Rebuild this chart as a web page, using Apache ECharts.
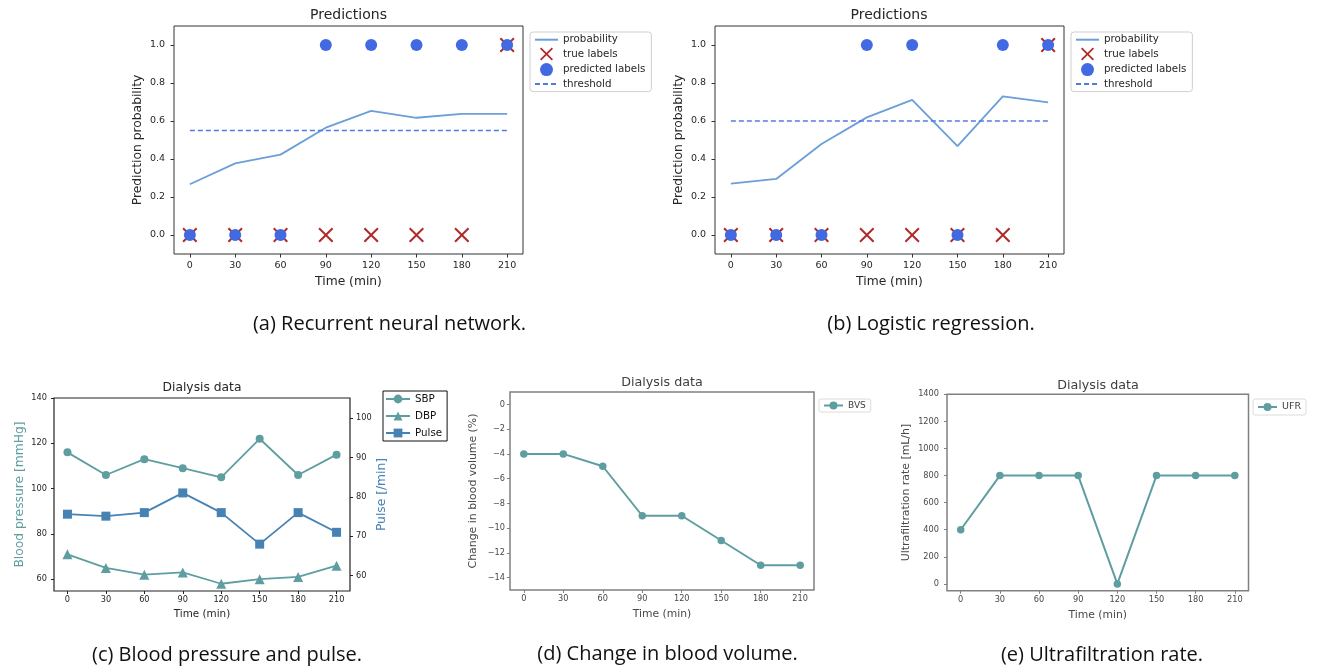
<!DOCTYPE html>
<html>
<head>
<meta charset="utf-8">
<script src="https://cdn.jsdelivr.net/npm/echarts@6/dist/echarts.min.js"></script>
<style>
  html, body { margin: 0; padding: 0; background: #fff; }
  #main { position: absolute; left: 0; top: 0; width: 1320px; height: 671px; }
  #dialysis { position: absolute; left: 450px; top: 360px; width: 870px; height: 270px; filter: blur(0.5px); }
</style>
</head>
<body>
<div id="main"></div>
<div id="dialysis"></div>
<script>
// ---- data ----
const times = [0, 30, 60, 90, 120, 150, 180, 210];
const timeTicks = [0, 30, 60, 90, 120, 150, 180, 210];

// (a) recurrent neural network
const rnnProbability = [0.267, 0.377, 0.423, 0.565, 0.653, 0.617, 0.637, 0.637];
const rnnPredicted = [0, 0, 0, 1, 1, 1, 1, 1];
const rnnThreshold = 0.55;

// (b) logistic regression
const lrProbability = [0.270, 0.295, 0.479, 0.619, 0.711, 0.468, 0.730, 0.698];
const lrPredicted = [0, 0, 0, 1, 1, 0, 1, 1];
const lrThreshold = 0.60;

const trueLabels = [0, 0, 0, 0, 0, 0, 0, 1];
const probTicks = [0, 0.2, 0.4, 0.6, 0.8, 1.0];

// (c) blood pressure and pulse
const sbp = [116, 106, 113, 109, 105, 122, 106, 115];
const dbp = [71, 65, 62, 63, 58, 60, 61, 66];
const pulse = [75.6, 75.1, 76, 81, 76, 68, 76, 71];
const bpTicks = [60, 80, 100, 120, 140];
const pulseTicks = [60, 70, 80, 90, 100];

// (d) change in blood volume
const bvs = [-4, -4, -5, -9, -9, -11, -13, -13];
const bvsTicks = [0, -2, -4, -6, -8, -10, -12, -14];

// (e) ultrafiltration rate
const ufr = [400, 800, 800, 800, 0, 800, 800, 800];
const ufrTicks = [0, 200, 400, 600, 800, 1000, 1200, 1400];

const captions = [
  '(a) Recurrent neural network.',
  '(b) Logistic regression.',
  '(c) Blood pressure and pulse.',
  '(d) Change in blood volume.',
  '(e) Ultrafiltration rate.'
];

// ---- styling ----
const FONT = 'DejaVu Sans';
const CAPTION_FONT = 'Open Sans';
const PROB = '#6a9fd8';
const THR = '#5478e4';
const BLUE = '#4169e1';
const RED = '#b02a2a';
const TEAL = '#5f9ea0';
const STEEL = '#4682b4';
// "x" marker drawn as a filled cross outline
const XMARK = 'path://M0,1.9L1.9,0L10,8.1L18.1,0L20,1.9L11.9,10L20,18.1L18.1,20L10,11.9L1.9,20L0,18.1L8.1,10Z';

const pts = (ys) => times.map((t, i) => [t, ys[i]]);
const minus = (v) => (v < 0 ? '\u2212' + Math.abs(v) : String(v));

function timeAxis(gridIndex, s) {
  return {
    type: 'value', gridIndex: gridIndex, min: -10.5, max: 220.5,
    name: 'Time (min)', nameLocation: 'middle', nameGap: s.nameGap,
    nameTextStyle: { fontFamily: FONT, fontSize: s.nameSize, color: s.color },
    axisLine: { show: false, onZero: false },
    axisTick: { show: true, customValues: timeTicks, length: s.tickLen, lineStyle: { color: s.frame, width: 1 } },
    axisLabel: { customValues: timeTicks, margin: s.labelMargin, fontFamily: FONT, fontSize: s.tickSize, color: s.color,
                 formatter: (v) => String(v) },
    splitLine: { show: false }
  };
}

function valueAxis(gridIndex, s) {
  return {
    type: 'value', gridIndex: gridIndex, min: s.min, max: s.max,
    position: s.position || 'left',
    name: s.name, nameLocation: 'middle', nameGap: s.nameGap,
    nameTextStyle: { fontFamily: FONT, fontSize: s.nameSize, color: s.nameColor || s.color },
    axisLine: { show: false, onZero: false },
    axisTick: { show: true, customValues: s.ticks, length: s.tickLen, lineStyle: { color: s.frame, width: 1 } },
    axisLabel: { customValues: s.ticks, margin: s.labelMargin, fontFamily: FONT, fontSize: s.tickSize, color: s.color,
                 formatter: s.formatter || ((v) => String(v)) },
    splitLine: { show: false }
  };
}

function heading(text, x, y, size, color, family) {
  return {
    text: text, left: x, top: y, textAlign: 'center', textVerticalAlign: 'middle', padding: 0,
    textStyle: { fontFamily: family || FONT, fontSize: size, fontWeight: 'normal', color: color }
  };
}

function predictionSeries(xi, probability, predicted, threshold) {
  return [
    { name: 'probability', type: 'line', xAxisIndex: xi, yAxisIndex: xi, data: pts(probability),
      symbol: 'none', lineStyle: { color: PROB, width: 1.8 }, itemStyle: { color: PROB } },
    { name: 'true labels', type: 'scatter', xAxisIndex: xi, yAxisIndex: xi, data: pts(trueLabels),
      symbol: XMARK, symbolSize: 15, itemStyle: { color: RED, opacity: 1 } },
    { name: 'predicted labels', type: 'scatter', xAxisIndex: xi, yAxisIndex: xi, data: pts(predicted),
      symbol: 'circle', symbolSize: 12, itemStyle: { color: BLUE, opacity: 1 } },
    { name: 'threshold', type: 'line', xAxisIndex: xi, yAxisIndex: xi,
      data: [[times[0], threshold], [times[times.length - 1], threshold]],
      symbol: 'none', lineStyle: { color: THR, width: 1.5, type: [5, 3] }, itemStyle: { color: THR } }
  ];
}

// legend entries: line-only entries hide the marker dot
const predictionLegendData = [
  { name: 'probability', itemStyle: { opacity: 0 } },
  { name: 'true labels' },
  { name: 'predicted labels', icon: 'path://M0,0m-6,0a6,6 0 1,0 12,0a6,6 0 1,0 -12,0' },
  { name: 'threshold', itemStyle: { opacity: 0 } }
];

function predictionLegend(x) {
  return {
    orient: 'vertical', left: x, top: 32, padding: [2.5, 6, 2.5, 4], itemWidth: 23, itemHeight: 13, itemGap: 2.6,
    data: predictionLegendData,
    borderColor: '#cfcfcf', borderWidth: 1, borderRadius: 3, backgroundColor: '#fff',
    textStyle: { fontFamily: FONT, fontSize: 10.3, color: '#262626' }, selectedMode: false
  };
}

const predStyle = { frame: '#333', color: '#262626', tickLen: 3.5, tickSize: 9.5, nameSize: 12.3 };
const bpStyle = { frame: '#222', color: '#262626', tickLen: 3, tickSize: 8.2, nameSize: 12.3 };
const dialStyle = { frame: '#808080', color: '#484848', tickLen: 3, tickSize: 8.2, nameSize: 10.9 };

// ---- top row and panel (c) ----
const main = echarts.init(document.getElementById('main'), null, { renderer: 'canvas' });
main.setOption({
  animation: false,
  backgroundColor: '#fff',
  title: [
    heading('Predictions', 348.5, 15.5, 14, '#262626'),
    heading('Predictions', 889, 15.5, 14, '#262626'),
    heading('Dialysis data', 202, 388, 12.3, '#262626'),
    heading(captions[0], 389.5, 324, 20, '#111', CAPTION_FONT),
    heading(captions[1], 931, 324, 20, '#111', CAPTION_FONT),
    heading(captions[2], 227, 655, 20, '#111', CAPTION_FONT),
    heading(captions[3], 667.5, 654, 20, '#111', CAPTION_FONT),
    heading(captions[4], 1102, 655, 20, '#111', CAPTION_FONT)
  ],
  grid: [
    { left: 174, top: 26, width: 349, height: 228, show: true, borderColor: '#333', borderWidth: 1 },
    { left: 715, top: 26, width: 349, height: 228, show: true, borderColor: '#333', borderWidth: 1 },
    { left: 54, top: 398, width: 296, height: 193, show: true, borderColor: '#222', borderWidth: 1.2 }
  ],
  xAxis: [
    timeAxis(0, Object.assign({ nameGap: 22, labelMargin: 7 }, predStyle)),
    timeAxis(1, Object.assign({ nameGap: 22, labelMargin: 7 }, predStyle)),
    timeAxis(2, Object.assign({}, bpStyle, { nameGap: 18, labelMargin: 5, nameSize: 10.4 }))
  ],
  yAxis: [
    valueAxis(0, Object.assign({ min: -0.1, max: 1.1, ticks: probTicks, name: 'Prediction probability',
      nameGap: 30, labelMargin: 9, formatter: (v) => v.toFixed(1) }, predStyle)),
    valueAxis(1, Object.assign({ min: -0.1, max: 1.1, ticks: probTicks, name: 'Prediction probability',
      nameGap: 30, labelMargin: 9, formatter: (v) => v.toFixed(1) }, predStyle)),
    valueAxis(2, Object.assign({ min: 54.8, max: 140, ticks: bpTicks, name: 'Blood pressure [mmHg]',
      nameGap: 28, labelMargin: 7, nameColor: TEAL }, bpStyle)),
    valueAxis(2, Object.assign({ min: 56.1, max: 105.1, ticks: pulseTicks, name: 'Pulse [/min]', position: 'right',
      nameGap: 25, labelMargin: 6, nameColor: STEEL }, bpStyle))
  ],
  legend: [
    predictionLegend(530),
    predictionLegend(1071),
    { orient: 'vertical', left: 383, top: 391, padding: [3, 5, 3, 2], itemWidth: 24, itemHeight: 11, itemGap: 7,
      data: ['SBP', 'DBP', 'Pulse'],
      borderColor: '#111', borderWidth: 1, borderRadius: 0, backgroundColor: '#fff',
      textStyle: { fontFamily: FONT, fontSize: 10.3, color: '#111' }, selectedMode: false }
  ],
  series: [].concat(
    predictionSeries(0, rnnProbability, rnnPredicted, rnnThreshold),
    predictionSeries(1, lrProbability, lrPredicted, lrThreshold),
    [
      { name: 'SBP', type: 'line', xAxisIndex: 2, yAxisIndex: 2, data: pts(sbp), symbol: 'circle', symbolSize: 8,
        lineStyle: { color: TEAL, width: 1.8 }, itemStyle: { color: TEAL } },
      { name: 'DBP', type: 'line', xAxisIndex: 2, yAxisIndex: 2, data: pts(dbp), symbol: 'triangle', symbolSize: 10,
        lineStyle: { color: TEAL, width: 1.8 }, itemStyle: { color: TEAL } },
      { name: 'Pulse', type: 'line', xAxisIndex: 2, yAxisIndex: 3, data: pts(pulse), symbol: 'rect', symbolSize: 9,
        lineStyle: { color: STEEL, width: 1.8 }, itemStyle: { color: STEEL } }
    ]
  )
});

// ---- panels (d) and (e) ----
const dial = echarts.init(document.getElementById('dialysis'), null, { renderer: 'canvas' });
dial.setOption({
  animation: false,
  title: [
    heading('Dialysis data', 212, 22.7, 12.7, '#404040'),
    heading('Dialysis data', 648, 25.7, 12.7, '#404040')
  ],
  grid: [
    { left: 60, top: 32, width: 304, height: 198, show: true, borderColor: '#808080', borderWidth: 1.5 },
    { left: 497, top: 34.3, width: 301.5, height: 196.4, show: true, borderColor: '#808080', borderWidth: 1.5 }
  ],
  xAxis: [
    timeAxis(0, Object.assign({}, dialStyle, { nameGap: 19, labelMargin: 5, nameSize: 10.8 })),
    timeAxis(1, Object.assign({}, dialStyle, { nameGap: 19, labelMargin: 5, nameSize: 10.8 }))
  ],
  yAxis: [
    valueAxis(0, Object.assign({ min: -15, max: 1, ticks: bvsTicks, name: 'Change in blood volume (%)',
      nameGap: 31, labelMargin: 5, formatter: minus }, dialStyle)),
    valueAxis(1, Object.assign({ min: -50, max: 1400, ticks: ufrTicks, name: 'Ultrafiltration rate [mL/h]',
      nameGap: 35, labelMargin: 8 }, dialStyle))
  ],
  legend: [
    { orient: 'vertical', left: 369, top: 39, padding: [2, 5, 2, 4], itemWidth: 19, itemHeight: 10,
      data: ['BVS'], borderColor: '#dcdcdc', borderWidth: 1, borderRadius: 2, backgroundColor: '#fff',
      textStyle: { fontFamily: FONT, fontSize: 9, color: '#404040' }, selectedMode: false },
    { orient: 'vertical', left: 803, top: 39, padding: [3, 5, 3, 4], itemWidth: 19, itemHeight: 10,
      data: ['UFR'], borderColor: '#dcdcdc', borderWidth: 1, borderRadius: 2, backgroundColor: '#fff',
      textStyle: { fontFamily: FONT, fontSize: 9.5, color: '#404040' }, selectedMode: false }
  ],
  series: [
    { name: 'BVS', type: 'line', xAxisIndex: 0, yAxisIndex: 0, data: pts(bvs), symbol: 'circle', symbolSize: 7.5,
      lineStyle: { color: TEAL, width: 2 }, itemStyle: { color: TEAL } },
    { name: 'UFR', type: 'line', xAxisIndex: 1, yAxisIndex: 1, data: pts(ufr), symbol: 'circle', symbolSize: 7.5,
      lineStyle: { color: TEAL, width: 2 }, itemStyle: { color: TEAL } }
  ]
});
</script>
</body>
</html>
